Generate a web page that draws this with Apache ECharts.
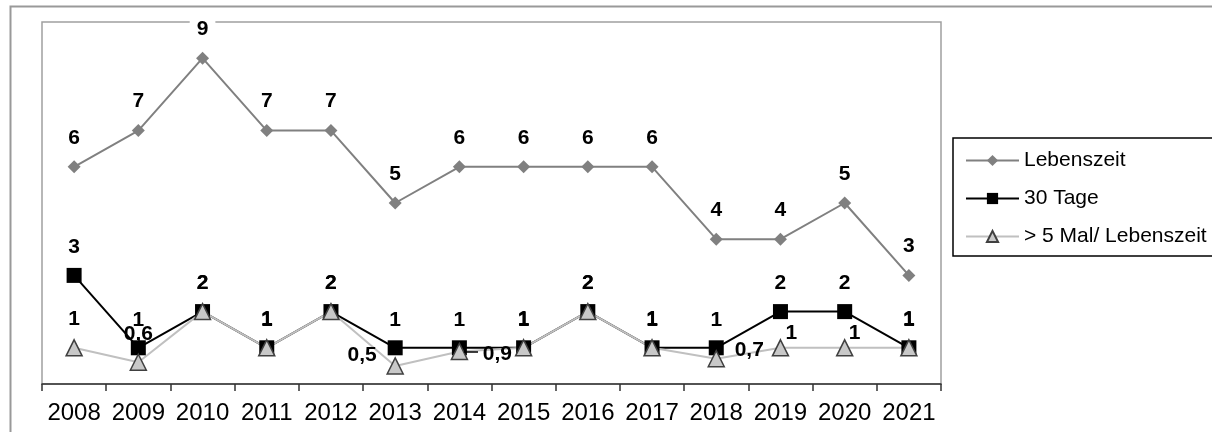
<!DOCTYPE html>
<html>
<head>
<meta charset="utf-8">
<script src="https://cdn.jsdelivr.net/npm/echarts@6/dist/echarts.min.js"></script>
<style>
  html, body { margin: 0; padding: 0; background: #fff; }
  #chart { width: 1212px; height: 432px; }
</style>
</head>
<body>
<div id="chart"></div>
<script>
var years = ["2008", "2009", "2010", "2011", "2012", "2013", "2014", "2015", "2016", "2017", "2018", "2019", "2020", "2021"];
var lebenszeit = [6, 7, 9, 7, 7, 5, 6, 6, 6, 6, 4, 4, 5, 3];
var tage30 = [3, 1, 2, 1, 2, 1, 1, 1, 2, 1, 1, 2, 2, 1];
var mal5 = [1, 0.6, 2, 1, 2, 0.5, 0.9, 1, 2, 1, 0.7, 1, 1, 1];

// label placement for the points of "> 5 Mal" that sit off the other line
var mal5LabelOffset = {
  5: [-33, -11],
  6: [38, 3],
  10: [33, -8],
  11: [11, -15],
  12: [10, -15]
};

var fontName = "Liberation Sans, Arial, sans-serif";

function comma(p) {
  return String(p.value).replace(".", ",");
}

var labelBase = {
  show: true,
  position: "top",
  color: "#000",
  fontWeight: "bold",
  fontSize: 21,
  fontFamily: fontName,
  formatter: comma
};

var lebenData = lebenszeit.map(function (v, i) {
  if (v === 9) {
    return { value: v, label: { backgroundColor: "#fff", padding: [0, 7] } };
  }
  return v;
});

var mal5Data = mal5.map(function (v, i) {
  var off = mal5LabelOffset[i];
  if (!off) return v;
  return { value: v, label: { position: "inside", offset: off, distance: 0 } };
});

var myChart = echarts.init(document.getElementById("chart"));
var option = {
  animation: false,
  textStyle: { fontFamily: fontName },
  graphic: [
    {
      type: "rect",
      left: 8,
      top: 4,
      z: -10,
      shape: { width: 1300, height: 500 },
      style: { fill: "none", stroke: "#999", lineWidth: 2 }
    },
    {
      // short leader from the 2014 point to its label
      type: "line",
      z: 10,
      shape: { x1: 464, y1: 352, x2: 478, y2: 352 },
      style: { stroke: "#000", lineWidth: 1.5 }
    }
  ],
  grid: {
    left: 42,
    right: 271,
    top: 22,
    bottom: 48,
    show: true,
    borderColor: "#a0a0a0",
    borderWidth: 1.5
  },
  legend: {
    orient: "vertical",
    left: 953,
    top: 138,
    itemWidth: 53,
    itemHeight: 14,
    itemGap: 17,
    padding: [12, 40, 9, 12],
    borderColor: "#000",
    borderWidth: 1.5,
    textStyle: { fontSize: 21, color: "#000", fontFamily: fontName },
    data: ["Lebenszeit", "30 Tage", "> 5 Mal/ Lebenszeit"]
  },
  xAxis: {
    type: "category",
    data: years,
    boundaryGap: true,
    axisLine: { lineStyle: { color: "#333", width: 1.5 } },
    axisTick: { show: true, length: 7, interval: 0, lineStyle: { color: "#333", width: 1.5 } },
    axisLabel: { interval: 0, color: "#000", fontSize: 24, margin: 17, fontFamily: fontName }
  },
  yAxis: {
    type: "value",
    min: 0,
    max: 10,
    show: false,
    splitLine: { show: false }
  },
  series: [
    {
      name: "Lebenszeit",
      type: "line",
      data: lebenData,
      symbol: "diamond",
      symbolSize: 13,
      lineStyle: { color: "#808080", width: 2 },
      itemStyle: { color: "#808080" },
      label: Object.assign({}, labelBase, { distance: 12 })
    },
    {
      name: "30 Tage",
      type: "line",
      data: tage30,
      symbol: "rect",
      symbolSize: 15,
      lineStyle: { color: "#000", width: 2 },
      itemStyle: { color: "#000" },
      label: Object.assign({}, labelBase, { distance: 10 })
    },
    {
      name: "> 5 Mal/ Lebenszeit",
      type: "line",
      data: mal5Data,
      symbol: "triangle",
      symbolSize: 16,
      lineStyle: { color: "#c0c0c0", width: 2 },
      itemStyle: { color: "#c8c8c8", borderColor: "#404040", borderWidth: 1.5 },
      label: Object.assign({}, labelBase, { distance: 9 })
    }
  ]
};
myChart.setOption(option);
</script>
</body>
</html>
